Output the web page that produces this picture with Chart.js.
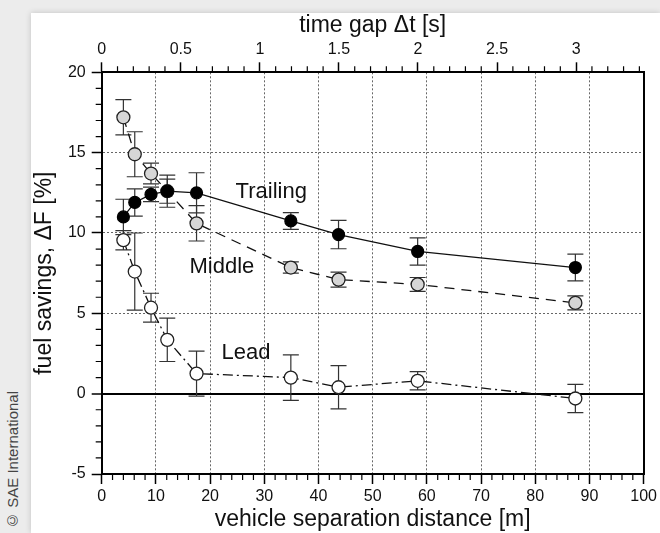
<!DOCTYPE html>
<html><head><meta charset="utf-8">
<script src="https://cdn.jsdelivr.net/npm/chart.js@4"></script>
<style>
html,body{margin:0;padding:0;background:#ececec;width:660px;height:533px;overflow:hidden;}
#panel{position:absolute;left:31px;top:13px;width:629px;height:520px;background:#fff;box-shadow:0 0 6px rgba(0,0,0,0.18);}
#wrap{position:absolute;left:0;top:0;width:660px;height:533px;}
#copy{position:absolute;left:4px;bottom:4px;writing-mode:vertical-rl;transform:rotate(180deg);font:15px 'Liberation Sans',Arial,sans-serif;color:#444;white-space:nowrap;line-height:18px;}
</style></head><body>
<div id="panel"></div>
<div id="copy">© SAE International</div>
<div id="wrap"><canvas id="c" width="660" height="533"></canvas></div>
<script>
// ---- data ----
const distance    = [4.0, 6.1, 9.1, 12.1, 17.5, 34.9, 43.7, 58.3, 87.4];   // vehicle separation distance [m]
const trailing    = [11.0, 11.9, 12.4, 12.6, 12.5, 10.75, 9.9, 8.85, 7.85];
const trailingErr = [1.1, 0.85, 0.45, 1.0, 1.25, 0.52, 0.88, 0.85, 0.83];
const middle      = [17.2, 14.9, 13.7, 12.6, 10.6, 7.85, 7.1, 6.8, 5.65];
const middleErr   = [1.1, 1.4, 0.65, 0.75, 1.1, 0.35, 0.47, 0.43, 0.44];
const lead        = [9.55, 7.6, 5.35, 3.35, 1.25, 1.0, 0.4, 0.8, -0.3];
const leadErr     = [0.6, 2.4, 0.9, 1.35, 1.4, 1.42, 1.35, 0.57, 0.88];
const seriesNames = ['Trailing', 'Middle', 'Lead'];
const labelAnchorX = [24.7, 16.2, 22.1];   // data units (m)
const labelAnchorY = [12.18, 7.5, 2.16];   // data units (%)
const timeGapMax = 3.427;                  // top axis extent [s] at 100 m

const FONT = "'Liberation Sans', Arial, sans-serif";
const TXT = '#111';
const series = [trailing, middle, lead];
const errs = [trailingErr, middleErr, leadErr];
const toPts = ys => distance.map((x, i) => ({x, y: ys[i]}));

const errorBars = {
  id: 'errorBars',
  beforeDatasetsDraw(chart) {
    const {ctx, scales: {x, y}} = chart;
    ctx.save(); ctx.strokeStyle = '#333'; ctx.lineWidth = 1.2;
    errs.forEach((e, di) => {
      const vals = series[di];
      distance.forEach((d, i) => {
        const px = x.getPixelForValue(d);
        const t = y.getPixelForValue(vals[i] + e[i]);
        const b = y.getPixelForValue(vals[i] - e[i]);
        ctx.beginPath();
        ctx.moveTo(px, t); ctx.lineTo(px, b);
        ctx.moveTo(px - 8, t); ctx.lineTo(px + 8, t);
        ctx.moveTo(px - 8, b); ctx.lineTo(px + 8, b);
        ctx.stroke();
      });
    });
    ctx.restore();
  }
};

const minorTicks = {
  id: 'minorTicks',
  afterDraw(chart) {
    const {ctx, chartArea: a, scales} = chart;
    ctx.save(); ctx.strokeStyle = '#000'; ctx.lineWidth = 1.2; ctx.beginPath();
    for (let v = 0; v <= 100; v += 2) {
      if (v % 10 === 0) continue;
      const p = scales.x.getPixelForValue(v);
      ctx.moveTo(p, a.bottom); ctx.lineTo(p, a.bottom + 6);
    }
    for (let k = 1; k <= 34; k++) {
      if (k % 5 === 0) continue;
      const p = scales.x2.getPixelForValue(k / 10);
      ctx.moveTo(p, a.top); ctx.lineTo(p, a.top - 6);
    }
    for (let v = -5; v <= 20; v++) {
      if (v % 5 === 0) continue;
      const p = scales.y.getPixelForValue(v);
      ctx.moveTo(a.left, p); ctx.lineTo(a.left - 6, p);
    }
    ctx.stroke(); ctx.restore();
  }
};

const seriesLabels = {
  id: 'seriesLabels',
  afterDatasetsDraw(chart) {
    const {ctx, scales: {x, y}} = chart;
    ctx.save();
    ctx.font = '22px ' + FONT; ctx.fillStyle = TXT;
    ctx.textAlign = 'left'; ctx.textBaseline = 'alphabetic';
    seriesNames.forEach((n, i) => {
      ctx.fillText(n, x.getPixelForValue(labelAnchorX[i]), y.getPixelForValue(labelAnchorY[i]));
    });
    ctx.restore();
  }
};

const edge = (vals) => (c) => (c.tick && vals.includes(c.tick.value)) ? 'rgba(0,0,0,0)' : '#666';

new Chart(document.getElementById('c'), {
  type: 'scatter',
  data: {
    datasets: [
      {label: 'Trailing', data: toPts(trailing), showLine: true, borderColor: '#111', borderWidth: 1.3,
       pointRadius: 6, pointHoverRadius: 6, pointBackgroundColor: '#000', pointBorderColor: '#000', pointBorderWidth: 1.2, order: 1},
      {label: 'Middle', data: toPts(middle), showLine: true, borderColor: '#111', borderWidth: 1.3, borderDash: [10, 7],
       pointRadius: 6.5, pointHoverRadius: 6.5, pointBackgroundColor: '#d6d6d6', pointBorderColor: '#222', pointBorderWidth: 1.3, order: 2},
      {label: 'Lead', data: toPts(lead), showLine: true, borderColor: '#111', borderWidth: 1.3, borderDash: [10, 4, 2, 4],
       pointRadius: 6.5, pointHoverRadius: 6.5, pointBackgroundColor: '#fff', pointBorderColor: '#222', pointBorderWidth: 1.3, order: 3}
    ]
  },
  options: {
    responsive: false, animation: false, events: [],
    layout: {padding: {left: 0, top: 0, right: 14, bottom: 0}},
    plugins: {legend: {display: false}, tooltip: {enabled: false}},
    scales: {
      x: {
        type: 'linear', position: 'bottom', min: 0, max: 100,
        ticks: {stepSize: 10, padding: 3, color: TXT, font: {family: FONT, size: 16}, callback: v => String(v)},
        grid: {color: edge([0, 100]), lineWidth: 1, tickLength: 10, tickColor: '#000', tickWidth: 1.5},
        border: {display: true, color: '#000', width: 2, dash: [2, 2]},
        title: {display: true, text: 'vehicle separation distance [m]', color: TXT, font: {family: FONT, size: 23}, padding: {top: 0, bottom: 0}},
        afterFit: s => { s.height = 59; }
      },
      x2: {
        type: 'linear', position: 'top', min: 0, max: timeGapMax,
        ticks: {stepSize: 0.5, includeBounds: false, padding: 3, color: TXT, font: {family: FONT, size: 16}, callback: v => String(v)},
        grid: {drawOnChartArea: false, tickLength: 10, tickColor: '#000', tickWidth: 1.5},
        border: {display: true, color: '#000', width: 2},
        title: {display: true, text: 'time gap Δt [s]', color: TXT, font: {family: FONT, size: 23}, padding: {top: 12, bottom: 0}},
        afterFit: s => { s.height = 72.3; }
      },
      y: {
        type: 'linear', position: 'left', min: -5, max: 20,
        ticks: {stepSize: 5, padding: 6, color: TXT, font: {family: FONT, size: 16}, callback: v => String(v)},
        grid: {
          color: c => (c.tick && c.tick.value === 0) ? '#000' : edge([-5, 20])(c),
          lineWidth: c => (c.tick && c.tick.value === 0) ? 2 : 1,
          tickLength: 10, tickColor: '#000', tickWidth: 1.5
        },
        border: {display: true, color: '#000', width: 2, dash: c => (c.tick && c.tick.value === 0) ? [] : [2, 2]},
        title: {display: true, text: 'fuel savings, ΔF [%]', color: TXT, font: {family: FONT, size: 23}, padding: {top: 31, bottom: 0}},
        afterFit: s => { s.width = 101.7; }
      },
      y2: {
        type: 'linear', position: 'right', min: -5, max: 20,
        ticks: {display: false},
        grid: {drawOnChartArea: false, drawTicks: false},
        border: {display: true, color: '#000', width: 2},
        afterFit: s => { s.width = 0; }
      }
    }
  },
  plugins: [errorBars, minorTicks, seriesLabels]
});
</script>
</body></html>
